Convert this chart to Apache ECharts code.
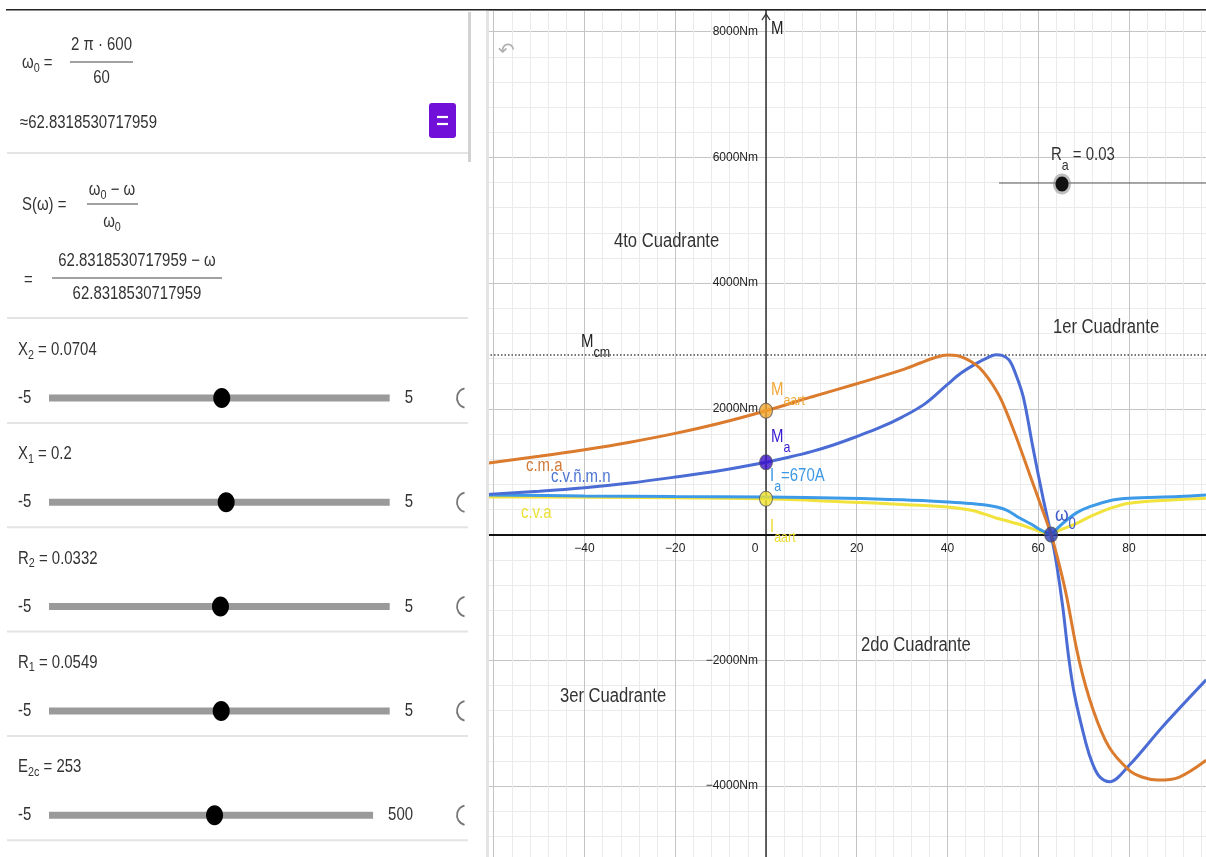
<!DOCTYPE html>
<html>
<head>
<meta charset="utf-8">
<title>M(ω)</title>
<script src="https://cdn.jsdelivr.net/npm/echarts@6/dist/echarts.min.js"></script>
<style>
  html, body { margin: 0; padding: 0; background: #fff; }
  #chart { width: 1206px; height: 857px; }
</style>
</head>
<body>
<div id="chart"></div>
<script>
// c.m.a (orange)
const cmaW = [-61.5, -50, -40, -30, -20, -10, 0, 10, 20, 30, 34, 37, 40, 42, 44, 46.3, 48, 50, 52, 55, 58, 60.5, 62.83, 64.35, 66.1, 69, 72.1, 75.6, 80, 83, 86.4, 91, 97];
const cmaM = [1135, 1245, 1350, 1470, 1610, 1775, 1970, 2190, 2400, 2620, 2730, 2810, 2858, 2850, 2800, 2700, 2580, 2380, 2120, 1580, 980, 480, 0, -400, -930, -2000, -2790, -3380, -3745, -3860, -3905, -3860, -3590];
// c.v.ñ.m.n (blue)
const cvnW = [-61.5, -50, -40, -30, -20, -10, 0, 5, 10, 15, 20, 25, 30, 35, 40, 43, 46.3, 49, 50.7, 52, 53.6, 55, 56.7, 58.8, 61, 62.83, 64, 65.4, 66.7, 68, 70.5, 72, 73.5, 75.7, 80.1, 87.4, 97];
const cvnM = [640, 690, 745, 820, 915, 1020, 1150, 1230, 1320, 1430, 1560, 1700, 1870, 2080, 2390, 2570, 2720, 2820, 2860, 2850, 2775, 2560, 2190, 1395, 600, 0, -450, -1150, -1950, -2550, -3315, -3650, -3850, -3930, -3665, -3055, -2310];
// I_a (light blue)
const iaW = [-61.5, -40, -20, 0, 17.6, 30, 40, 45, 50, 53, 56, 58.5, 60.4, 62.83, 64.5, 66.3, 68.5, 71.4, 76.4, 80, 91, 97];
const iaM = [630, 615, 605, 600, 580, 555, 520, 495, 450, 390, 260, 165, 80, 0, 120, 232, 350, 445, 550, 580, 605, 630];
// c.v.a (yellow)
const cvaW = [-61.5, -40, -20, 0, 17.6, 30, 40, 45, 48, 50.7, 53, 56, 60.4, 62.83, 65, 67.7, 71.4, 76, 80, 90, 97];
const cvaM = [600, 595, 585, 570, 520, 480, 440, 390, 330, 265, 220, 160, 50, 0, 80, 153, 285, 420, 500, 555, 580];
// M_cm
const mcm = [2860];
// points: M_aart, M_a, I_aart, ω0
const ptW = [0, 0, 0, 62.83];
const ptM = [1970, 1150, 570, 0];
// sliders
const sliderNames = [['X', '2'], ['X', '1'], ['R', '2'], ['R', '1'], ['E', '2c']];
const sliderValues = [0.0704, 0.2, 0.0332, 0.0549, 253];
const sliderMin = [-5, -5, -5, -5, -5];
const sliderMax = [5, 5, 5, 5, 500];
const xTicks = [-40, -20, 0, 20, 40, 60, 80];

// visible window
const X_MIN = -80, X_MAX = 96.97, Y_MIN = -6000, Y_MAX = 8345;
const GRID = { left: 403, right: 0, top: 10, bottom: -54.8 };
const gridW = 1206 - GRID.left - GRID.right;
const gridH = 857 - GRID.top - GRID.bottom;

const SX = 0.83;
const FF = '"Liberation Sans", Arial, sans-serif';
const cv = document.createElement('canvas').getContext('2d');
function tw(s, size) {
  cv.font = size + 'px ' + FF;
  return cv.measureText(s).width * SX;
}
function textEl(x, y, s, size, color) {
  return {
    type: 'text', x: x, y: y, scaleX: SX, z: 110,
    style: { text: s, font: size + 'px ' + FF, fill: color, textAlign: 'left', textVerticalAlign: 'middle' }
  };
}
// parts: [text, isSub]
function run(x, y, parts, o) {
  o = Object.assign({ size: 18, sub: 14, dy: 6, color: '#222', align: 'left' }, o || {});
  let w = 0;
  parts.forEach(p => { w += tw(p[0], p[1] ? o.sub : o.size); });
  let cx = o.align === 'center' ? x - w / 2 : x;
  return parts.map(p => {
    const fs = p[1] ? o.sub : o.size;
    const el = textEl(cx, y + (p[1] ? o.dy : 0), p[0], fs, o.color);
    cx += tw(p[0], fs);
    return el;
  });
}
function hline(x1, x2, y, color, width) {
  return { type: 'line', z: 110, shape: { x1: x1, y1: y, x2: x2, y2: y }, style: { stroke: color, lineWidth: width } };
}

const g = [];
// left panel
g.push({ type: 'rect', z: 100, shape: { x: 0, y: 0, width: 487, height: 857 }, style: { fill: '#fff' } });
g.push({ type: 'rect', z: 100, shape: { x: 0, y: 0, width: 1206, height: 9 }, style: { fill: '#fff' } });
g.push({ type: 'rect', z: 101, shape: { x: 486, y: 10, width: 3, height: 847 }, style: { fill: '#e4e4e4' } });
g.push({ type: 'rect', z: 120, shape: { x: 6, y: 9, width: 1200, height: 1.6 }, style: { fill: '#222' } });
g.push({ type: 'rect', z: 101, shape: { x: 468, y: 12, width: 3, height: 150 }, style: { fill: '#d2d2d2' } });
[153, 318].forEach(y => g.push(hline(7, 468, y, '#e4e4e4', 2)));

const P = { size: 18, sub: 13, dy: 5, color: '#333' };
const PC = Object.assign({}, P, { align: 'center' });
// ω0 = 2π·600 / 60
g.push(...run(22, 63, [['ω', 0], ['0', 1], [' =', 0]], P));
g.push(...run(101.5, 45, [['2 π · 600', 0]], PC));
g.push(hline(70, 133, 62, '#444', 1.2));
g.push(...run(101.5, 78, [['60', 0]], PC));
g.push(...run(20, 123, [['≈62.8318530717959', 0]], P));
g.push({ type: 'rect', z: 110, shape: { x: 429, y: 103, width: 27, height: 35, r: 3 }, style: { fill: '#7010d8' } });
g.push(hline(437, 448, 117, '#fff', 2.2));
g.push(hline(437, 448, 124, '#fff', 2.2));
// S(ω)
g.push(...run(22, 205, [['S(ω) =', 0]], P));
g.push(...run(112, 190, [['ω', 0], ['0', 1], [' − ω', 0]], PC));
g.push(hline(87, 138, 204, '#444', 1.2));
g.push(...run(112, 222, [['ω', 0], ['0', 1]], PC));
g.push(...run(24, 280, [['=', 0]], P));
g.push(...run(137, 261, [['62.8318530717959 − ω', 0]], PC));
g.push(hline(52, 222, 278, '#444', 1.2));
g.push(...run(137, 294, [['62.8318530717959', 0]], PC));

// sliders
sliderNames.forEach((nm, i) => {
  const ly = 350 + i * 104.3;
  const ty = ly + 48;
  g.push(...run(18, ly, [[nm[0], 0], [nm[1], 1], [' = ' + sliderValues[i], 0]], P));
  g.push(...run(18, ty, [[String(sliderMin[i]), 0]], P));
  const maxX = 413 - tw(String(sliderMax[i]), 18);
  g.push(...run(maxX, ty, [[String(sliderMax[i]), 0]], P));
  const trackEnd = maxX - 15;
  g.push(hline(49, trackEnd, ty, '#9a9a9a', 7));
  const kx = 49 + (sliderValues[i] - sliderMin[i]) / (sliderMax[i] - sliderMin[i]) * (trackEnd - 49);
  g.push({ type: 'ellipse', z: 112, shape: { cx: kx, cy: ty, rx: 8.5, ry: 10 }, style: { fill: '#000' } });
  g.push({ type: 'arc', z: 110, shape: { cx: 467, cy: ty, r: 10, startAngle: Math.PI / 2 + 0.25, endAngle: Math.PI * 1.5 - 0.25, clockwise: true }, style: { stroke: '#777', lineWidth: 1.8, fill: 'none' } });
  g.push(hline(7, 468, ly + 73, '#e4e4e4', 2));
});

// graph decorations
g.push({ type: 'text', x: 498, y: 52, z: 105, style: { text: '↶', font: '20px "DejaVu Sans"', fill: '#b0b0b0', textVerticalAlign: 'middle' } });
g.push({ type: 'polyline', z: 105, shape: { points: [[762, 20], [766, 14], [770, 20]] }, style: { stroke: '#333', lineWidth: 1.3, fill: 'none' } });
g.push(...run(771, 29, [['M', 0]], { size: 18, color: '#222' }));
g.push(...run(614, 241, [['4to Cuadrante', 0]], { size: 20, color: '#333' }));
g.push(...run(1053, 327, [['1er Cuadrante', 0]], { size: 20, color: '#333' }));
g.push(...run(861, 645, [['2do Cuadrante', 0]], { size: 20, color: '#333' }));
g.push(...run(560, 696, [['3er Cuadrante', 0]], { size: 20, color: '#333' }));
const L = { size: 18, sub: 15, dy: 11 };
function LC(c) { return Object.assign({}, L, { color: c }); }
g.push(...run(581, 342, [['M', 0], ['cm', 1]], LC('#222')));
g.push(...run(526, 466, [['c.m.a', 0]], LC('#d07a38')));
g.push(...run(551, 477, [['c.v.ñ.m.n', 0]], LC('#4b74d2')));
g.push(...run(521, 513, [['c.v.a', 0]], LC('#ece03a')));
g.push(...run(771, 390, [['M', 0], ['aart', 1]], LC('#f0a838')));
g.push(...run(771, 437, [['M', 0], ['a', 1]], LC('#3a1ad0')));
g.push(...run(770, 476, [['I', 0], ['a', 1], ['=670A', 0]], LC('#3c98e4')));
g.push(...run(770, 527, [['I', 0], ['aart', 1]], LC('#eedc30')));
g.push(...run(1055, 515, [['ω', 0], ['0', 1]], { size: 21, sub: 16, dy: 10, color: '#3c58c8' }));
// R_a slider in graph
g.push(hline(999, 1206, 183, '#555', 1));
g.push({ type: 'ellipse', z: 111, shape: { cx: 1062, cy: 184, rx: 9, ry: 10.5 }, style: { fill: '#888', opacity: 0.55 } });
g.push({ type: 'ellipse', z: 112, shape: { cx: 1062, cy: 184, rx: 6.5, ry: 7.5 }, style: { fill: '#111' } });
g.push(...run(1051, 155, [['R', 0], ['a', 1], [' = 0.03', 0]], LC('#333')));

function zip(ws, ms) { return ws.map((w, i) => [w, ms[i]]); }
function splitAt(ws, ms, x) {
  const k = ws.indexOf(x);
  return [zip(ws.slice(0, k + 1), ms.slice(0, k + 1)), zip(ws.slice(k), ms.slice(k))];
}
const iaParts = splitAt(iaW, iaM, 62.83);
const cvaParts = splitAt(cvaW, cvaM, 62.83);
const ptColor = ['#f2a42a', '#3b12c9', '#f1e22e', '#2a3fb8'];

function lineSeries(data, color, z, extra) {
  return Object.assign({
    type: 'line', data: data, smooth: 0.35, showSymbol: false, silent: true, z: z,
    lineStyle: { color: color, width: 3 }
  }, extra || {});
}

// axes sit where the other axis is zero (labels follow via offset)
const xAxisOffset = -(0 - Y_MIN) / (Y_MAX - Y_MIN) * gridH;
const yAxisOffset = -(0 - X_MIN) / (X_MAX - X_MIN) * gridW;

const axisFont = { fontFamily: FF, fontSize: 12, color: '#222' };
const option = {
  animation: false,
  backgroundColor: '#fff',
  grid: Object.assign({ outerBoundsMode: 'none' }, GRID),
  xAxis: {
    type: 'value', min: X_MIN, max: X_MAX, interval: 20,
    position: 'bottom', offset: xAxisOffset,
    axisLine: { onZero: false, lineStyle: { color: '#111', width: 2 } },
    axisTick: { show: false },
    axisLabel: Object.assign({
      margin: 8,
      formatter: v => v === 0 ? '{z|0}' : (xTicks.indexOf(v) >= 0 ? String(v).replace('-', '−') : ''),
      rich: { z: Object.assign({ padding: [0, 22, 0, 0] }, axisFont) }
    }, axisFont),
    splitLine: { show: true, lineStyle: { color: '#c4c4c4', width: 1 } },
    minorTick: { show: false, splitNumber: 5 },
    minorSplitLine: { show: true, lineStyle: { color: '#ebebeb', width: 1 } }
  },
  yAxis: {
    type: 'value', min: Y_MIN, max: Y_MAX, interval: 2000,
    position: 'left', offset: yAxisOffset,
    axisLine: { onZero: false, lineStyle: { color: '#333', width: 1.5 } },
    axisTick: { show: false },
    axisLabel: Object.assign({
      margin: 8,
      formatter: v => (v === 0 || v % 2000 !== 0) ? '' : (v < 0 ? '−' + (-v) : v) + 'Nm'
    }, axisFont),
    splitLine: { show: true, lineStyle: { color: '#c4c4c4', width: 1 } },
    minorTick: { show: false, splitNumber: 5 },
    minorSplitLine: { show: true, lineStyle: { color: '#ebebeb', width: 1 } }
  },
  series: [
    lineSeries(cvaParts[0], '#f2e23c', 3),
    lineSeries(cvaParts[1], '#f2e23c', 3),
    lineSeries(iaParts[0], '#3d9ae8', 4),
    lineSeries(iaParts[1], '#3d9ae8', 4),
    lineSeries(zip(cvnW, cvnM), '#4a6cd4', 5),
    lineSeries(zip(cmaW, cmaM), '#db7b2e', 6, {
      markLine: {
        silent: true, symbol: ['none', 'none'], label: { show: false },
        lineStyle: { type: [1.5, 2], color: '#777', width: 2 },
        data: [{ yAxis: mcm[0] }]
      }
    }),
    {
      type: 'scatter', z: 8, silent: true, symbolSize: [13, 15],
      itemStyle: { borderColor: '#555', borderWidth: 1 },
      data: ptW.map((w, i) => ({ value: [w, ptM[i]], itemStyle: { color: ptColor[i] } }))
    }
  ],
  graphic: { elements: g }
};

const chart = echarts.init(document.getElementById('chart'));
chart.setOption(option);
</script>
</body>
</html>
